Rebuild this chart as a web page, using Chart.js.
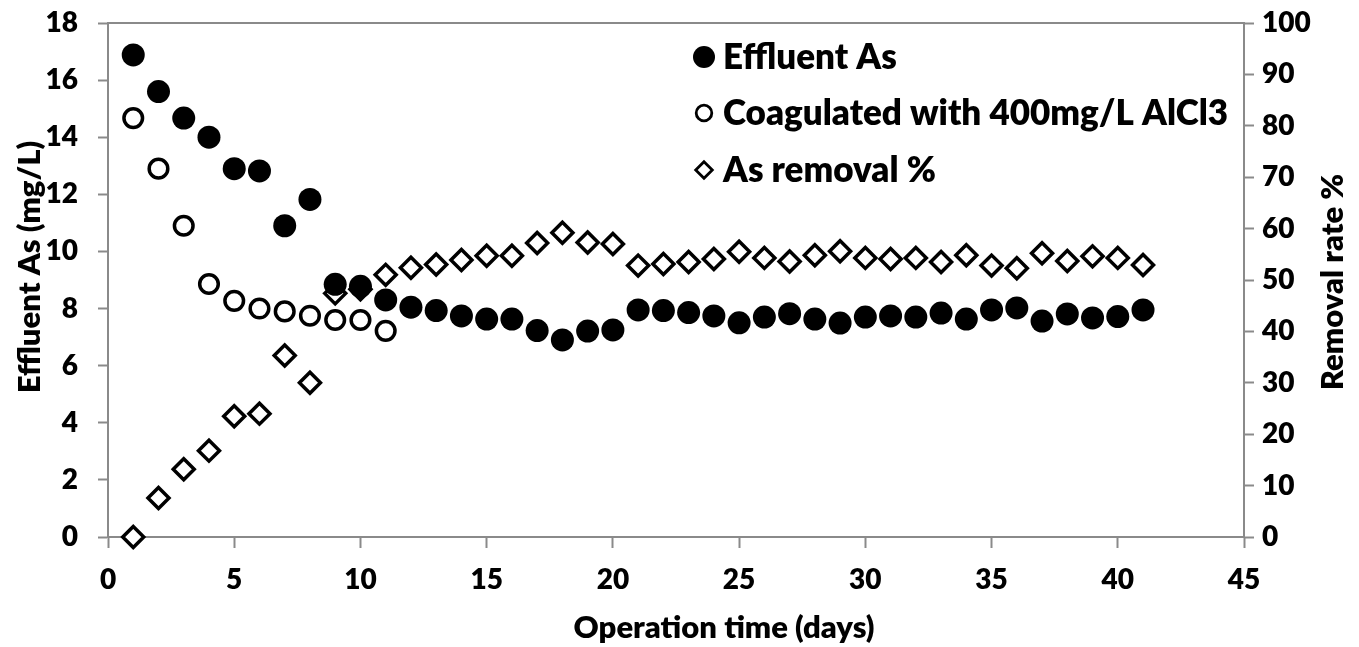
<!DOCTYPE html>
<html>
<head>
<meta charset="utf-8">
<title>Effluent As and removal rate</title>
<script src="https://cdn.jsdelivr.net/npm/chart.js@4/dist/chart.umd.min.js"></script>
<style>
  html, body { margin: 0; padding: 0; background: #ffffff; }
  #wrap { position: relative; width: 1359px; height: 647px; }
</style>
</head>
<body>
<div id="wrap"><canvas id="chart"></canvas></div>
<script>
// Operation day of each sample
const days = [1, 2, 3, 4, 5, 6, 7, 8, 9, 10, 11, 12, 13, 14, 15, 16, 17, 18, 19, 20,
              21, 22, 23, 24, 25, 26, 27, 28, 29, 30, 31, 32, 33, 34, 35, 36, 37, 38, 39, 40, 41];

// Effluent arsenic (mg/L)
const effluentAs = [16.88, 15.6, 14.67, 14.0, 12.9, 12.82, 10.9, 11.82, 8.85, 8.78,
                    8.3, 8.05, 7.93, 7.74, 7.63, 7.63, 7.23, 6.9, 7.21, 7.25,
                    7.95, 7.93, 7.86, 7.74, 7.5, 7.7, 7.82, 7.63, 7.49, 7.7,
                    7.74, 7.7, 7.84, 7.63, 7.95, 8.02, 7.56, 7.81, 7.67, 7.72, 7.95];

// Arsenic after coagulation with 400 mg/L AlCl3 (mg/L), first 11 days only
const coagulatedAs = [14.67, 12.9, 10.9, 8.86, 8.27, 8.0, 7.9, 7.75, 7.6, 7.6, 7.22];

// Arsenic removal rate (%)
const removalPct = [0, 7.6, 13.2, 16.8, 23.5, 24.0, 35.3, 30.0, 47.4, 48.2,
                    51.0, 52.4, 53.0, 53.9, 54.7, 54.7, 57.2, 59.2, 57.3, 57.0,
                    52.8, 53.1, 53.5, 54.1, 55.5, 54.3, 53.6, 54.8, 55.6, 54.3,
                    54.1, 54.3, 53.5, 54.8, 52.8, 52.3, 55.2, 53.7, 54.6, 54.3, 52.9];

const seriesLabels = ['Effluent As', 'Coagulated with 400mg/L AlCl3', 'As removal %'];
const xTitle = 'Operation time (days)';
const yLeftTitle = 'Effluent As (mg/L)';
const yRightTitle = 'Removal rate %';

const FONT = 'Lato, "Open Sans", sans-serif';
const WEIGHT = '800';
const AXIS_GREY = '#8a8a8a';

const toPoints = (vals) => vals.map((v, i) => ({ x: days[i], y: v }));

// Frame top edge, axis titles (both vertical ones read bottom-to-top) and the in-plot legend
const decorations = {
  id: 'decorations',
  afterDraw(chart) {
    const { ctx, chartArea: a } = chart;
    ctx.save();

    ctx.strokeStyle = AXIS_GREY;
    ctx.lineWidth = 2;
    ctx.beginPath();
    ctx.moveTo(a.left, a.top);
    ctx.lineTo(a.right, a.top);
    ctx.stroke();

    ctx.fillStyle = '#000';
    ctx.textAlign = 'center';
    ctx.textBaseline = 'middle';
    ctx.font = WEIGHT + ' 31px ' + FONT;
    ctx.fillText(xTitle, 724, 628);

    const vertical = (text, x, y) => {
      ctx.save();
      ctx.translate(x, y);
      ctx.rotate(-Math.PI / 2);
      ctx.fillText(text, 0, 0);
      ctx.restore();
    };
    ctx.font = WEIGHT + ' 31px ' + FONT;
    vertical(yLeftTitle, 30, 267);
    vertical(yRightTitle, 1333, 282);

    // legend
    const markerX = 704, textX = 723, rowY = [57, 113, 170];
    ctx.textAlign = 'left';
    ctx.font = WEIGHT + ' 35px ' + FONT;
    chart.data.datasets.forEach((ds, i) => {
      const y = rowY[i];
      ctx.fillStyle = ds.backgroundColor;
      ctx.strokeStyle = ds.borderColor;
      ctx.lineWidth = 2.8;
      ctx.beginPath();
      if (ds.pointStyle === 'rectRot') {
        const r = 8.3;
        ctx.moveTo(markerX, y - r);
        ctx.lineTo(markerX + r, y);
        ctx.lineTo(markerX, y + r);
        ctx.lineTo(markerX - r, y);
        ctx.closePath();
        ctx.fill();
        ctx.stroke();
      } else if (ds.backgroundColor !== '#000000') {
        ctx.arc(markerX, y, 7.8, 0, Math.PI * 2);
        ctx.fill();
        ctx.stroke();
      } else {
        ctx.arc(markerX, y, 11, 0, Math.PI * 2);
        ctx.fill();
      }
      ctx.fillStyle = '#000';
      ctx.fillText(ds.label, textX, y + 1);
    });

    ctx.restore();
  }
};

const tickFont = { family: FONT, size: 28, weight: WEIGHT };

// fixed axis band sizes; edge tick labels may overhang the plot frame
const fixWidth = (w) => (s) => { s.width = w; s.paddingTop = 0; s.paddingBottom = 0; };
const fixHeight = (h) => (s) => { s.height = h; s.paddingLeft = 0; s.paddingRight = 0; };

new Chart(document.getElementById('chart'), {
  type: 'scatter',
  data: {
    datasets: [
      {
        label: seriesLabels[0],
        data: toPoints(effluentAs),
        yAxisID: 'y',
        pointStyle: 'circle',
        pointRadius: 11.5,
        pointHoverRadius: 11.5,
        backgroundColor: '#000000',
        borderColor: '#000000',
        borderWidth: 0,
        clip: false
      },
      {
        label: seriesLabels[1],
        data: toPoints(coagulatedAs),
        yAxisID: 'y',
        pointStyle: 'circle',
        pointRadius: 9.3,
        pointHoverRadius: 9.3,
        backgroundColor: '#ffffff',
        borderColor: '#000000',
        borderWidth: 3.5,
        clip: false
      },
      {
        label: seriesLabels[2],
        data: toPoints(removalPct),
        yAxisID: 'y2',
        pointStyle: 'rectRot',
        pointRadius: 10.5,
        pointHoverRadius: 10.5,
        backgroundColor: '#ffffff',
        borderColor: '#000000',
        borderWidth: 3.5,
        clip: false
      }
    ]
  },
  options: {
    responsive: true,
    maintainAspectRatio: false,
    animation: false,
    events: [],
    layout: { padding: { top: 23, left: 0, right: 0, bottom: 0 } },
    plugins: {
      legend: { display: false },
      tooltip: { enabled: false }
    },
    scales: {
      x: {
        type: 'linear',
        position: 'bottom',
        min: 0,
        max: 45,
        afterFit: fixHeight(110),
        border: { color: AXIS_GREY, width: 2 },
        grid: { drawOnChartArea: false, drawTicks: true, tickLength: 11, tickColor: AXIS_GREY, tickWidth: 2 },
        ticks: { stepSize: 5, color: '#000', font: tickFont, padding: 15, maxRotation: 0 }
      },
      y: {
        type: 'linear',
        position: 'left',
        min: 0,
        max: 18,
        afterFit: fixWidth(108),
        border: { color: AXIS_GREY, width: 2 },
        grid: { drawOnChartArea: false, drawTicks: true, tickLength: 10, tickColor: AXIS_GREY, tickWidth: 2 },
        ticks: { stepSize: 2, color: '#000', font: tickFont, padding: 20 }
      },
      y2: {
        type: 'linear',
        position: 'right',
        min: 0,
        max: 100,
        afterFit: fixWidth(115),
        border: { color: AXIS_GREY, width: 2 },
        grid: { drawOnChartArea: false, drawTicks: true, tickLength: 10, tickColor: AXIS_GREY, tickWidth: 2 },
        ticks: { stepSize: 10, color: '#000', font: tickFont, padding: 8 }
      }
    }
  },
  plugins: [decorations]
});
</script>
</body>
</html>
